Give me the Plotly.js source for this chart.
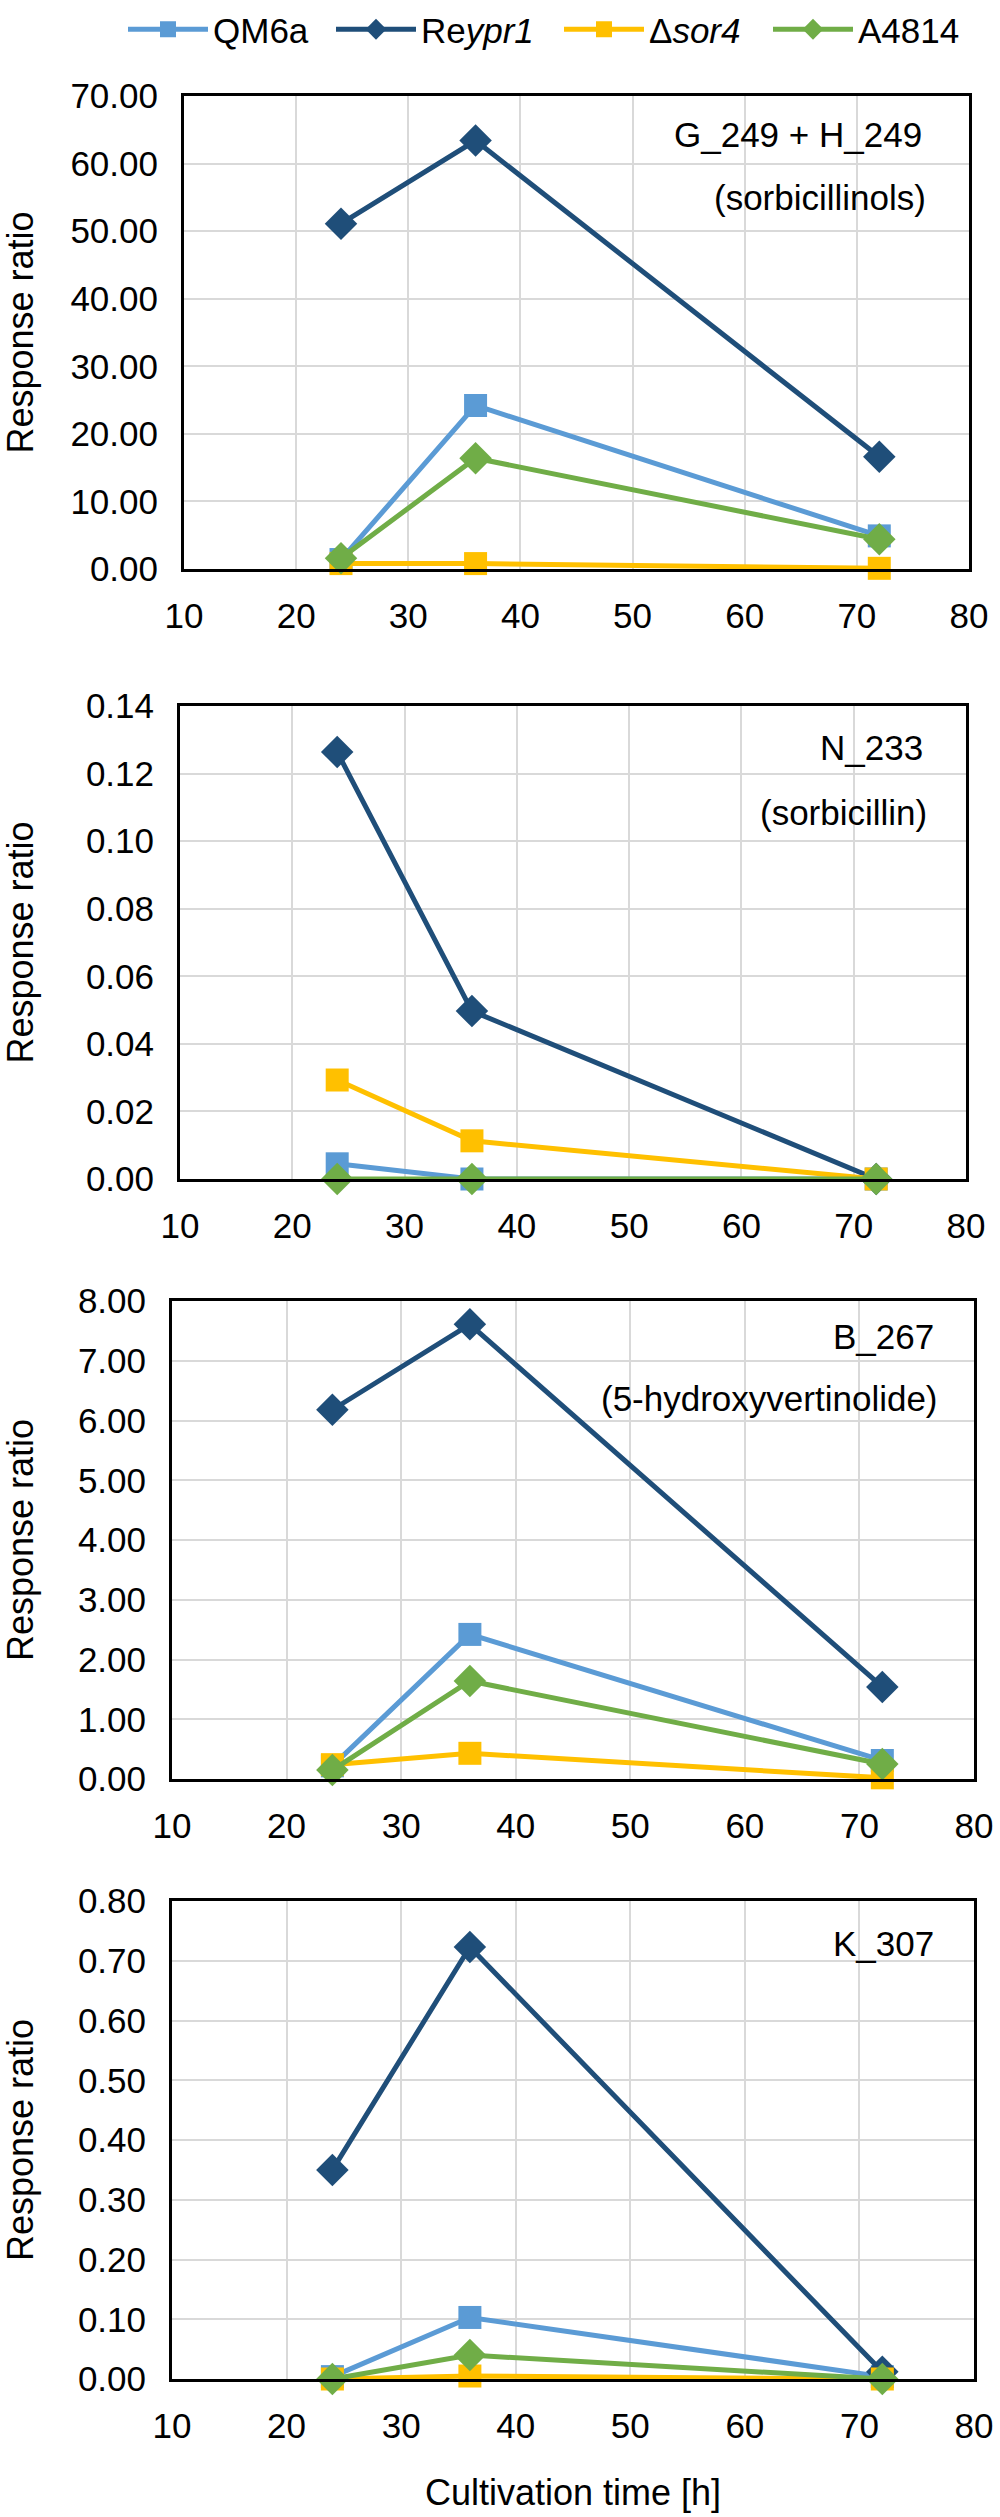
<!DOCTYPE html>
<html>
<head>
<meta charset="utf-8">
<script src="https://cdn.plot.ly/plotly-3.0.1.min.js"></script>
<style>
  html, body { margin: 0; padding: 0; background: #ffffff; }
  #chart { width: 1000px; height: 2517px; }
</style>
</head>
<body>
<div id="chart"></div>
<script>
// ---------- data ----------
const hours = [24, 36, 72];
const seriesNames = ['QM6a', 'Re<i>ypr1</i>', 'Δ<i>sor4</i>', 'A4814'];
const seriesColors = ['#5B9BD5', '#1F4E79', '#FFC000', '#70AD47'];
const seriesSymbols = ['square', 'diamond', 'square', 'diamond'];

const panelLabels = ['G_249 + H_249', 'N_233', 'B_267', 'K_307'];
const panelSubLabels = ['(sorbicillinols)', '(sorbicillin)', '(5-hydroxyvertinolide)', ''];

// Panel 1: G_249 + H_249 (sorbicillinols)
const qm6a_p1   = [1.4, 24.2, 4.9];
const reypr1_p1 = [51.1, 63.4, 16.6];
const sor4_p1   = [0.8, 0.8, 0.1];
const a4814_p1  = [1.6, 16.4, 4.4];

// Panel 2: N_233 (sorbicillin)
const qm6a_p2   = [0.0045, 0, 0];
const reypr1_p2 = [0.1264, 0.0497, 0];
const sor4_p2   = [0.0293, 0.0113, 0];
const a4814_p2  = [0, 0, 0];

// Panel 3: B_267 (5-hydroxyvertinolide)
const qm6a_p3   = [0.22, 2.42, 0.31];
const reypr1_p3 = [6.18, 7.61, 1.54];
const sor4_p3   = [0.24, 0.43, 0.02];
const a4814_p3  = [0.15, 1.64, 0.25];

// Panel 4: K_307
const qm6a_p4   = [0.004, 0.103, 0.004];
const reypr1_p4 = [0.35, 0.723, 0.012];
const sor4_p4   = [0.0, 0.005, 0.0];
const a4814_p4  = [0.0, 0.040, 0.0];

const yRanges = [[0, 70], [0, 0.14], [0, 8], [0, 0.8]];
const yDticks = [10, 0.02, 1, 0.1];
const xRange = [10, 80];
const xDtick = 10;

// ---------- layout geometry (pixels) ----------
const W = 1000, H = 2517;
const panelBoxes = [
  {l: 184, r: 969, t: 96,   b: 569},
  {l: 180, r: 966, t: 706,  b: 1179},
  {l: 172, r: 974, t: 1301, b: 1779},
  {l: 172, r: 974, t: 1901, b: 2379}
];
const labelPos = [
  {x: 924, y1: 135,  y2: 198},
  {x: 925, y1: 748,  y2: 812},
  {x: 936, y1: 1336, y2: 1398},
  {x: 936, y1: 1943, y2: null}
];
const legendEntryWidths = [113, 133, 114, 103];

const panelData = [
  [qm6a_p1, reypr1_p1, sor4_p1, a4814_p1],
  [qm6a_p2, reypr1_p2, sor4_p2, a4814_p2],
  [qm6a_p3, reypr1_p3, sor4_p3, a4814_p3],
  [qm6a_p4, reypr1_p4, sor4_p4, a4814_p4]
];

const FONT = 'Liberation Sans, Arial, sans-serif';
const traces = [];
const layout = {
  width: W, height: H,
  margin: {l: 0, r: 0, t: 0, b: 0},
  paper_bgcolor: '#ffffff',
  plot_bgcolor: '#ffffff',
  font: {family: FONT, size: 35, color: '#000000'},
  showlegend: true,
  legend: {
    orientation: 'h',
    x: 0.123, xanchor: 'left',
    y: 1.0, yanchor: 'top',
    font: {family: FONT, size: 35, color: '#000000'},
    itemwidth: 80,
    tracegroupgap: 0,
    bgcolor: 'rgba(0,0,0,0)'
  },
  annotations: []
};

panelData.forEach((series, p) => {
  const ax = p === 0 ? '' : String(p + 1);
  series.forEach((vals, s) => {
    traces.push({
      type: 'scatter',
      mode: 'lines+markers',
      x: hours,
      y: vals,
      xaxis: 'x' + ax,
      yaxis: 'y' + ax,
      name: seriesNames[s],
      legendgroup: 's' + s,
      legendwidth: legendEntryWidths[s],
      showlegend: p === 0,
      cliponaxis: false,
      line: {color: seriesColors[s], width: 5},
      marker: {
        symbol: seriesSymbols[s],
        size: seriesSymbols[s] === 'diamond' ? 25 : 23,
        color: seriesColors[s],
        line: {width: 0}
      }
    });
  });

  const box = panelBoxes[p];
  layout['xaxis' + ax] = {
    domain: [box.l / W, box.r / W],
    anchor: 'y' + ax,
    range: xRange,
    dtick: xDtick,
    tick0: 10,
    showgrid: true,
    gridcolor: '#d9d9d9',
    gridwidth: 2,
    zeroline: false,
    showline: true,
    mirror: true,
    linecolor: '#000000',
    linewidth: 3,
    ticks: '',
    ticklabelstandoff: 14,
    tickfont: {family: FONT, size: 35, color: '#000000'},
    fixedrange: true,
    title: p === 3 ? {text: 'Cultivation time [h]', font: {family: FONT, size: 36, color: '#000000'}, standoff: 36} : {text: ''}
  };
  layout['yaxis' + ax] = {
    domain: [1 - box.b / H, 1 - box.t / H],
    anchor: 'x' + ax,
    range: yRanges[p],
    dtick: yDticks[p],
    tick0: 0,
    tickformat: '.2f',
    showgrid: true,
    gridcolor: '#d9d9d9',
    gridwidth: 2,
    zeroline: false,
    showline: true,
    mirror: true,
    linecolor: '#000000',
    linewidth: 3,
    ticks: '',
    ticklabelstandoff: 16,
    tickfont: {family: FONT, size: 35, color: '#000000'},
    fixedrange: true,
    title: {text: 'Response ratio', font: {family: FONT, size: 36, color: '#000000'}, standoff: 42}
  };

  const lp = labelPos[p];
  layout.annotations.push({
    xref: 'paper', yref: 'paper',
    x: lp.x / W, y: 1 - lp.y1 / H,
    xanchor: 'right', yanchor: 'middle',
    text: panelLabels[p], showarrow: false,
    font: {family: FONT, size: 35, color: '#000000'}
  });
  if (panelSubLabels[p]) {
    layout.annotations.push({
      xref: 'paper', yref: 'paper',
      x: lp.x / W + 0.004, y: 1 - lp.y2 / H,
      xanchor: 'right', yanchor: 'middle',
      text: panelSubLabels[p], showarrow: false,
      font: {family: FONT, size: 35, color: '#000000'}
    });
  }
});

Plotly.newPlot('chart', traces, layout, {displayModeBar: false, staticPlot: true});
</script>
</body>
</html>
